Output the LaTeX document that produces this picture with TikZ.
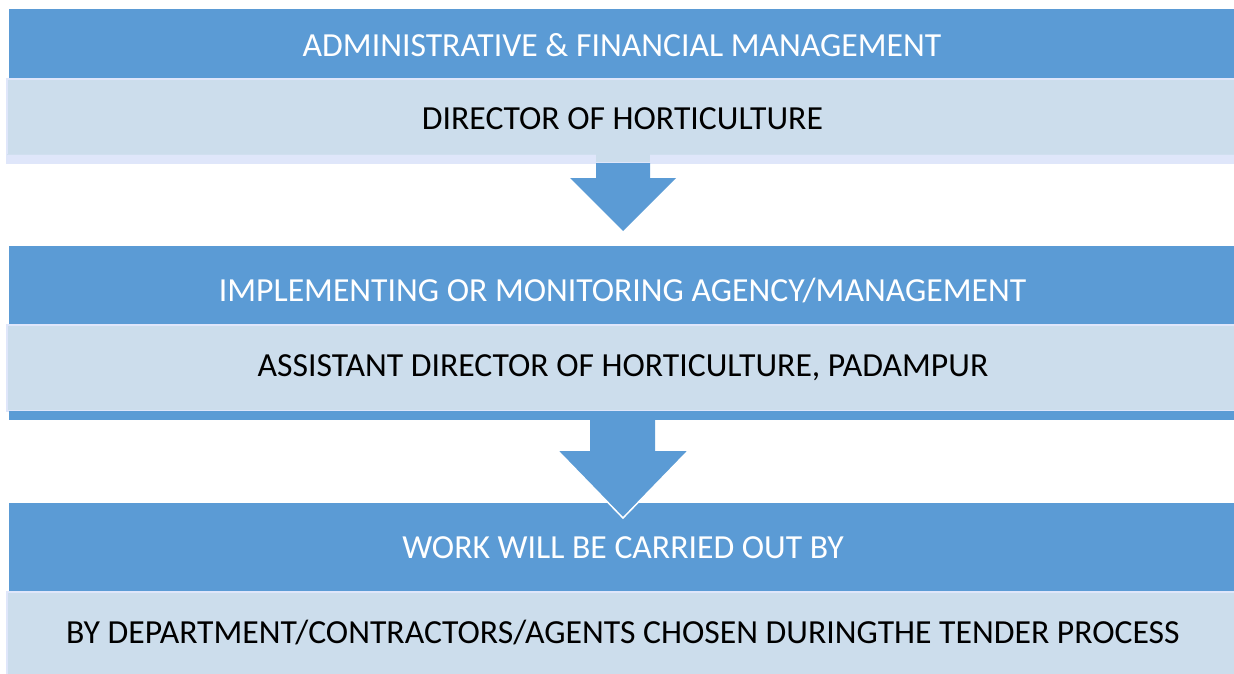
\documentclass[tikz,border=0pt]{standalone}
\usepackage{fontspec}
\setmainfont{Carlito}
\definecolor{dk}{HTML}{5B9BD5}
\definecolor{lt}{HTML}{CCDDEC}
\definecolor{lav}{HTML}{DFE6FA}
\begin{document}
\begin{tikzpicture}[x=1pt,y=-1pt,
  bar/.style={rectangle, inner sep=0pt, outer sep=0pt, anchor=north west},
  darkbar/.style={bar, fill=dk},
  lightbar/.style={bar, fill=lt, draw=lav, line width=1.5pt},
  txt/.style={inner sep=0pt, font=\fontsize{33.7}{36}\selectfont, text height=21.5pt, text depth=0pt, anchor=center},
  ttl/.style={txt, text=white},
  body/.style={txt, text=black}]
\useasboundingbox (0,0) rectangle (1234,673);
\clip (0,0) rectangle (1234,673);
% box 1
\node[darkbar, minimum width=1240, minimum height=70] (h1) at (9,9) {};
\node[lightbar, minimum width=1240, minimum height=84] (b1) at (7,79) {};
\fill[lav] (7,154) rectangle (596,163);
\fill[lav] (650,154) rectangle (1240,163);
\draw[lt!80!lav, line width=0.8pt] (7,154) -- (596,154) (650,154) -- (1240,154);
\node[ttl] (t1) at (622,46) {ADMINISTRATIVE \& FINANCIAL MANAGEMENT};
\node[body] (l1) at (622.5,119) {DIRECTOR OF HORTICULTURE};
% arrow 1
\fill[dk] (596,163) -- (650,163) -- (650,178) -- (676,178) -- (623,231) -- (570,178) -- (596,178) -- cycle;
% box 2
\node[darkbar, minimum width=1240, minimum height=79] (h2) at (9,246) {};
\node[lightbar, minimum width=1240, minimum height=86] (b2) at (7,325) {};
\node[darkbar, minimum width=1240, minimum height=9] (s2) at (9,411) {};
\node[ttl] (t2) at (622.5,291) {IMPLEMENTING OR MONITORING AGENCY/MANAGEMENT};
\node[body] (l2) at (623,366) {ASSISTANT DIRECTOR OF HORTICULTURE, PADAMPUR};
% box 3
\node[darkbar, minimum width=1240, minimum height=89] (h3) at (9,503) {};
\node[lightbar, minimum width=1240, minimum height=90] (b3) at (7,592) {};
\node[ttl] (t3) at (623,548) {WORK WILL BE CARRIED OUT BY};
\node[body] (l3) at (623,633) {BY DEPARTMENT/CONTRACTORS/AGENTS CHOSEN DURINGTHE TENDER PROCESS};
% arrow 2
\fill[dk] (590,419) -- (655,419) -- (655,451) -- (688,451) -- (623,518) -- (558,451) -- (590,451) -- cycle;
\draw[white, line width=1.5pt, line join=miter] (558,451) -- (623,518) -- (688,451);
\end{tikzpicture}
\end{document}
